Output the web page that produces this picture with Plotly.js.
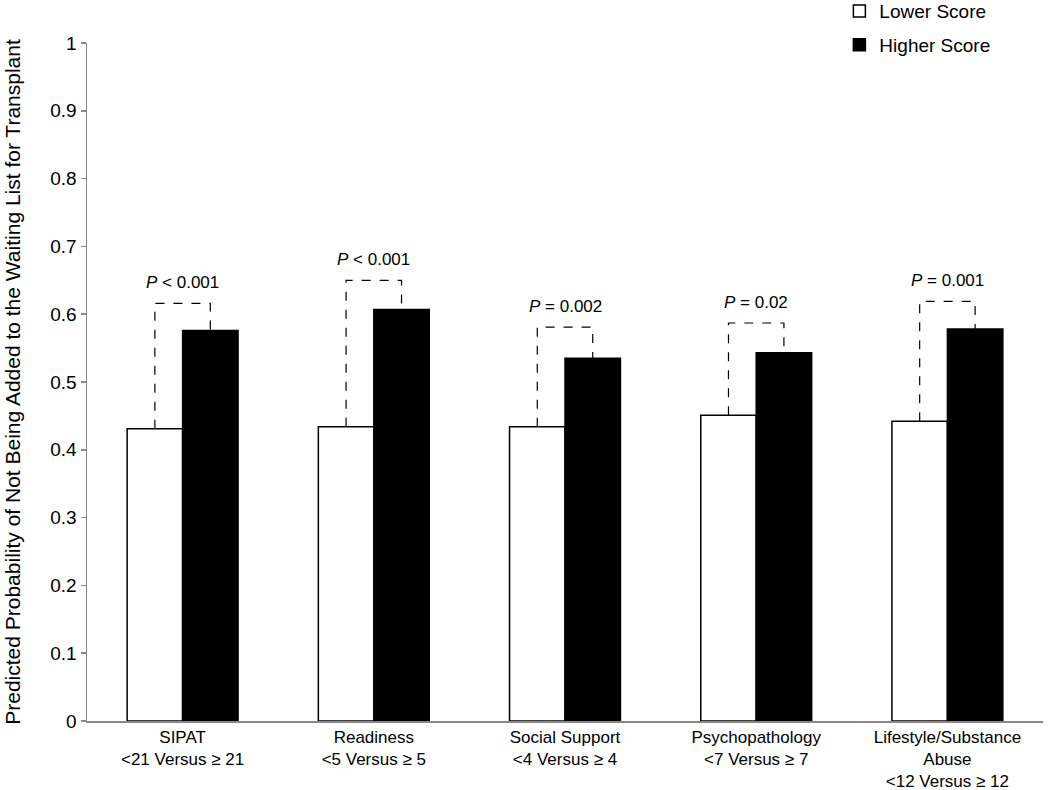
<!DOCTYPE html>
<html>
<head>
<meta charset="utf-8">
<script src="https://cdn.plot.ly/plotly-3.0.1.min.js"></script>
<style>html,body{margin:0;padding:0;background:#fff;}#chart{width:1050px;height:790px;}</style>
</head>
<body>
<div id="chart"></div>
<script>
var categories = ["SIPAT<br><21 Versus ≥ 21", "Readiness<br><5 Versus ≥ 5", "Social Support<br><4 Versus ≥ 4", "Psychopathology<br><7 Versus ≥ 7", "Lifestyle/Substance<br>Abuse<br><12 Versus ≥ 12"];
var lowerScore = [0.431, 0.434, 0.434, 0.451, 0.442];
var higherScore = [0.576, 0.607, 0.535, 0.543, 0.578];
var bracketTop = [0.616, 0.650, 0.581, 0.587, 0.619];
var pLabels = ["<i>P</i> &lt; 0.001", "<i>P</i> &lt; 0.001", "<i>P</i> = 0.002", "<i>P</i> = 0.02", "<i>P</i> = 0.001"];
var yTicks = [0, 0.1, 0.2, 0.3, 0.4, 0.5, 0.6, 0.7, 0.8, 0.9, 1];

var xIdx = categories.map(function(_, i){ return i; });
var FONT = "Liberation Sans, Arial, Helvetica, sans-serif";
var barW = 0.29;

var traces = [
  {type: "bar", name: "Lower Score", x: xIdx, y: lowerScore, width: barW, offset: -barW,
   legendgroup: "a",
   marker: {color: "#ffffff", line: {color: "#000000", width: 1.5}}},
  {type: "bar", name: "Higher Score", x: xIdx, y: higherScore, width: barW, offset: 0,
   legendgroup: "b",
   marker: {color: "#000000", line: {color: "#000000", width: 1.5}}}
];

var shapes = [];
var annotations = [];
xIdx.forEach(function(i){
  var xl = i - barW / 2, xr = i + barW / 2;
  shapes.push({type: "path", xref: "x", yref: "y",
    path: "M " + xl + " " + lowerScore[i] + " L " + xl + " " + bracketTop[i] + " L " + xr + " " + bracketTop[i] + " L " + xr + " " + higherScore[i],
    line: {color: "#000000", width: 1.2, dash: "dash"}});
  annotations.push({xref: "x", yref: "y", x: i, y: bracketTop[i], yshift: 9,
    text: pLabels[i], showarrow: false, yanchor: "bottom",
    font: {family: FONT, size: 17, color: "#000"}});
});

var layout = {
  width: 1050, height: 790,
  margin: {l: 87, r: 7, t: 43, b: 69, autoexpand: false},
  paper_bgcolor: "#fff", plot_bgcolor: "#fff",
  barmode: "overlay",
  font: {family: FONT, color: "#000"},
  showlegend: true,
  legend: {x: 0.787, y: 1.075, xanchor: "left", yanchor: "top", bgcolor: "rgba(0,0,0,0)",
           traceorder: "grouped", tracegroupgap: 6,
           font: {family: FONT, size: 19, color: "#000"}, itemwidth: 30},
  xaxis: {range: [-0.5, 4.5], tickmode: "array", tickvals: xIdx, ticktext: categories,
          showgrid: false, zeroline: false, showline: true, linecolor: "#888", linewidth: 1.5,
          ticks: "", tickfont: {family: FONT, size: 17, color: "#000"}, fixedrange: true},
  yaxis: {range: [0, 1], tickmode: "array", tickvals: yTicks, ticktext: yTicks.map(String),
          showgrid: false, zeroline: false, showline: true, linecolor: "#888", linewidth: 1.5,
          ticks: "outside", ticklen: 5, tickcolor: "#888", tickwidth: 1.5,
          tickfont: {family: FONT, size: 19, color: "#000"},
          title: {text: "Predicted Probability of Not Being Added to the Waiting List for Transplant",
                  font: {family: FONT, size: 21, color: "#000"}, standoff: 24}},
  shapes: shapes,
  annotations: annotations
};

Plotly.newPlot("chart", traces, layout, {displayModeBar: false, staticPlot: true});
</script>
</body>
</html>
